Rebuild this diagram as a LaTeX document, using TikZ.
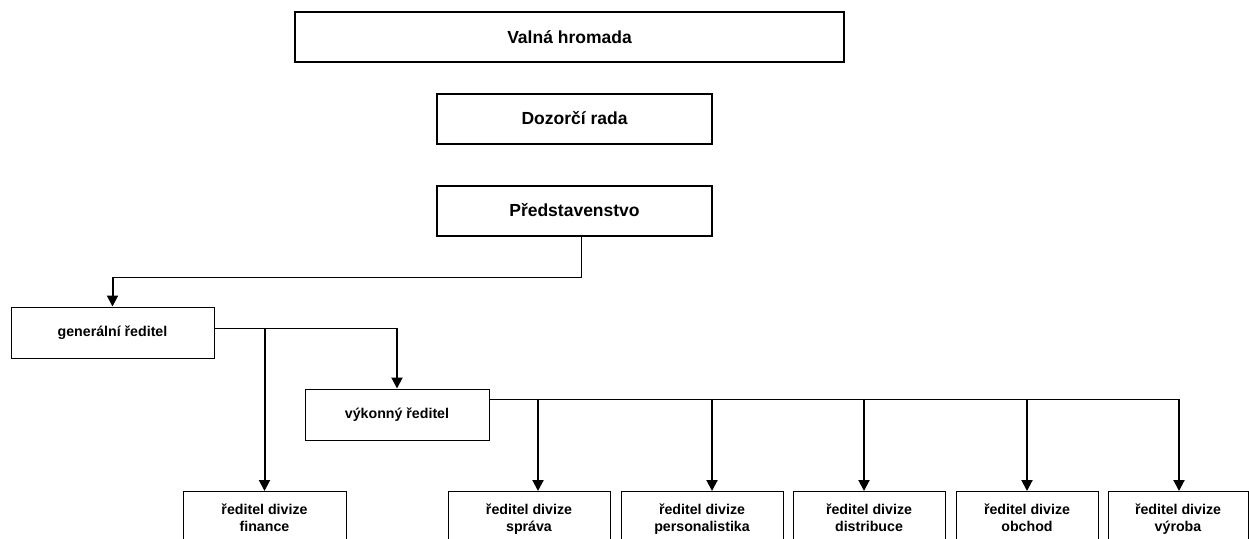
\documentclass[tikz,border=0pt]{standalone}
\usepackage{fontspec}
\setmainfont{Liberation Sans}
\usetikzlibrary{arrows.meta}

\begin{document}
\begin{tikzpicture}[x=1pt, y=-1pt,
	topbox/.style={draw, line width=2pt, minimum height=50pt, font=\fontsize{17.5}{21}\selectfont\bfseries},
	box/.style={draw, line width=1pt, minimum height=51pt, font=\fontsize{14.2}{17}\selectfont\bfseries},
	divbox/.style={draw, line width=1pt, anchor=north, align=center, inner ysep=11pt, text height=29pt, text depth=4pt, font=\fontsize{14.2}{17}\selectfont\bfseries},
	link/.style={line width=1pt},
	arr/.style={line width=2pt, -{Triangle[width=11pt,length=11pt]}}]
	\useasboundingbox (0,0) rectangle (1249,538);
	\clip (0,0) rectangle (1249,538);
	% vedeni
	\node [topbox, minimum width=549pt] (valna) at (569.5,37) {Valná hromada};
	\node [topbox, minimum width=275pt] (dozor) at (574.5,118.5) {Dozorčí rada};
	\node [topbox, minimum width=275pt] (pred) at (574.5,210.5) {Představenstvo};
	\node [box, minimum width=203pt] (gen) at (112.5,332.5) {generální ředitel};
	\node [box, minimum width=184pt] (vyk) at (397,414.5) {výkonný ředitel};
	% divize
	\node [divbox, minimum width=163pt] (finance) at (264.5,491) {ředitel divize\\finance};
	\node [divbox, minimum width=162pt] (sprava) at (529,491) {ředitel divize\\správa};
	\node [divbox, minimum width=162pt] (personal) at (702,491) {ředitel divize\\personalistika};
	\node [divbox, minimum width=152pt] (distrib) at (869,491) {ředitel divize\\distribuce};
	\node [divbox, minimum width=142pt] (obchod) at (1027,491) {ředitel divize\\obchod};
	\node [divbox, minimum width=140pt] (vyroba) at (1178,491) {ředitel divize\\výroba};
	% spojnice
	\coordinate (c1) at (581,277);
	\draw [link] (c1 |- pred.south) -- (c1) -- (c1 -| gen.north);
	\draw [arr] (c1 -| gen.north) -- (gen.north);
	\coordinate (c2) at (397,328);
	\coordinate (c3) at (264.5,328);
	\draw [link] (gen.east |- c2) -- (c2);
	\draw [arr] (c2) -- (vyk.north);
	\draw [arr] (c3) -- (finance.north);
	\coordinate (c4) at (1179,399);
	\draw [link] (vyk.east |- c4) -- (c4);
	\foreach \x/\n in {538/sprava, 712/personal, 864/distrib, 1027/obchod, 1179/vyroba}{
		\coordinate (t) at (\x,399);
		\draw [arr] (t) -- (t |- \n.north);
	}
\end{tikzpicture}
\end{document}
